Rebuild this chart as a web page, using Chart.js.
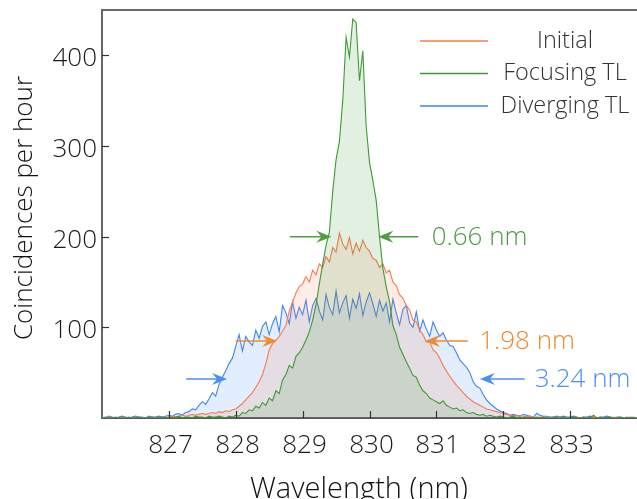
<!DOCTYPE html>
<html>
<head>
<meta charset="utf-8">
<script src="https://cdn.jsdelivr.net/npm/chart.js@4.4.1/dist/chart.umd.min.js"></script>
<style>
  html, body { margin: 0; padding: 0; background: #fff; }
  #wrap { width: 637px; height: 499px; }
</style>
</head>
<body>
<div id="wrap"><canvas id="spectrum" width="637" height="499"></canvas></div>
<script>
'use strict';

// Sampling grid (nm)
const lambdaStart = 826.0;
const lambdaStep = 0.05;

// Tick labels
const xTicks = [827, 828, 829, 830, 831, 832, 833];
const yTicks = [100, 200, 300, 400];

// Series (coincidences per hour), one value per 0.05 nm from 826.00 to 834.00
const initialCounts = [
  0, 0, 1, 0, 0, 0, 1, 0, 0, 0, 1, 0, 0, 0, 0, 1, 0, 0, 1, 0,
  1, 2, 1, 2, 3, 2, 3, 4, 3, 4, 5, 4, 5, 6, 5, 7, 6, 8, 7, 9,
  10, 13, 16, 20, 24, 28, 34, 40, 48, 60, 75, 82, 86, 90, 96, 102, 118, 128, 138, 145,
  148, 156, 150, 163, 158, 170, 166, 178, 172, 188, 183, 204, 192, 186, 199, 181, 193, 184, 196, 188,
  184, 176, 174, 166, 170, 160, 163, 150, 146, 136, 132, 124, 119, 108, 106, 97, 92, 84, 84, 75,
  72, 66, 58, 52, 46, 41, 36, 32, 28, 24, 21, 18, 16, 14, 12, 10, 9, 8, 7, 6,
  5, 4, 3, 3, 2, 3, 2, 1, 2, 1, 0, 1, 1, 0, 1, 0, 0, 1, 0, 0,
  0, 0, 1, 0, 0, 0, 0, 1, 0, 0, 0, 0, 0, 1, 0, 0, 0, 0, 0, 0, 0
];
const focusingCounts = [
  0, 1, 0, 0, 1, 0, 0, 0, 1, 0, 0, 1, 0, 0, 0, 1, 0, 0, 1, 0,
  1, 0, 1, 2, 0, 1, 1, 0, 2, 1, 1, 0, 2, 1, 1, 2, 1, 0, 2, 1,
  3, 2, 6, 5, 9, 8, 13, 11, 17, 14, 22, 19, 30, 27, 42, 48, 58, 55, 68, 72,
  78, 86, 95, 108, 125, 148, 170, 190, 205, 250, 285, 305, 350, 420, 398, 440, 436, 372, 405, 322,
  282, 262, 240, 200, 165, 145, 128, 102, 92, 78, 70, 62, 55, 47, 45, 36, 30, 27, 22, 20,
  18, 16, 19, 14, 12, 10, 11, 8, 9, 6, 5, 6, 4, 3, 4, 2, 3, 2, 1, 2,
  1, 0, 1, 2, 0, 1, 0, 1, 0, 0, 1, 0, 1, 0, 0, 1, 0, 0, 1, 0,
  0, 1, 0, 0, 1, 0, 0, 3, 0, 1, 0, 0, 1, 0, 0, 1, 0, 0, 1, 0, 0
];
const divergingCounts = [
  1, 0, 2, 1, 0, 1, 2, 1, 0, 1, 2, 1, 1, 0, 2, 1, 1, 2, 1, 2,
  3, 2, 4, 5, 3, 6, 7, 10, 9, 14, 18, 15, 21, 28, 24, 37, 45, 52, 60, 66,
  79, 92, 74, 90, 84, 80, 97, 88, 101, 106, 92, 104, 112, 95, 124, 116, 104, 128, 110, 122,
  114, 130, 106, 124, 132, 118, 108, 136, 122, 114, 140, 116, 127, 135, 110, 131, 121, 137, 113, 128,
  138, 126, 112, 130, 118, 127, 106, 131, 116, 103, 120, 124, 105, 100, 117, 96, 108, 98, 90, 106,
  97, 90, 94, 86, 80, 79, 72, 64, 60, 56, 50, 40, 35, 33, 26, 20, 16, 13, 10, 8,
  6, 5, 3, 4, 3, 2, 4, 3, 2, 1, 5, 3, 2, 2, 1, 1, 2, 1, 2, 1,
  1, 2, 1, 0, 1, 1, 2, 1, 0, 1, 1, 2, 1, 0, 1, 1, 0, 1, 0, 1, 0
];

// FWHM annotations: label, level, left arrow [tail, tip], right arrow [tail, tip], text start
const fwhmLabels = ['0.66 nm', '1.98 nm', '3.24 nm'];
const fwhmLevels = [200, 85, 43];
const fwhmLeft = [[828.81, 829.43], [828.0, 828.62], [827.26, 827.87]];
const fwhmRight = [[830.73, 830.13], [831.47, 830.83], [832.32, 831.65]];
const fwhmTextX = [830.93, 831.64, 832.47];
const fwhmColors = ['#4d9e3f', '#f28a2e', '#4a8ff2'];

const FONT = "'Open Sans', 'Noto Sans', sans-serif";

const toPoints = arr => arr.map((v, i) => ({ x: lambdaStart + i * lambdaStep, y: v }));

const seriesStyle = [
  { label: 'Initial', data: initialCounts, line: '#fb7a4b', fill: 'rgba(251, 122, 75, 0.14)' },
  { label: 'Focusing TL', data: focusingCounts, line: '#3f9a35', fill: 'rgba(63, 154, 53, 0.15)' },
  { label: 'Diverging TL', data: divergingCounts, line: '#3d86f2', fill: 'rgba(61, 134, 242, 0.15)' }
];

function drawArrow(ctx, x0, x1, yy, color) {
  const dir = Math.sign(x1 - x0);
  ctx.strokeStyle = color;
  ctx.fillStyle = color;
  ctx.lineWidth = 1.5;
  ctx.beginPath();
  ctx.moveTo(x0, yy);
  ctx.lineTo(x1 - dir * 8, yy);
  ctx.stroke();
  ctx.beginPath();
  ctx.moveTo(x1, yy);
  ctx.lineTo(x1 - dir * 15, yy - 6);
  ctx.lineTo(x1 - dir * 10, yy);
  ctx.lineTo(x1 - dir * 15, yy + 6);
  ctx.closePath();
  ctx.fill();
}

const extras = {
  id: 'extras',
  afterDraw(chart) {
    const { ctx, chartArea: a } = chart;
    const x = chart.scales.x, y = chart.scales.y;
    ctx.save();

    // top spine
    ctx.strokeStyle = '#6a6a6a';
    ctx.lineWidth = 2;
    ctx.beginPath();
    ctx.moveTo(a.left - 1, a.top);
    ctx.lineTo(a.right + 2, a.top);
    ctx.stroke();

    // inward tick marks + labels
    ctx.strokeStyle = '#333';
    ctx.lineWidth = 1.2;
    ctx.fillStyle = '#1a1a1a';
    ctx.font = '300 26px ' + FONT;
    xTicks.forEach(t => {
      const px = Math.round(x.getPixelForValue(t)) + 0.5;
      ctx.beginPath();
      ctx.moveTo(px, a.bottom);
      ctx.lineTo(px, a.bottom - 7);
      ctx.stroke();
      ctx.textAlign = 'center';
      ctx.textBaseline = 'alphabetic';
      ctx.fillText(String(t), px + 1, 453);
    });
    yTicks.forEach(t => {
      const py = Math.round(y.getPixelForValue(t)) + 0.5;
      ctx.beginPath();
      ctx.moveTo(a.left, py);
      ctx.lineTo(a.left + 7, py);
      ctx.stroke();
      ctx.textAlign = 'right';
      ctx.textBaseline = 'alphabetic';
      ctx.fillText(String(t), 97, py + 10);
    });

    // FWHM arrows and labels
    fwhmLabels.forEach((lab, i) => {
      const py = y.getPixelForValue(fwhmLevels[i]);
      drawArrow(ctx, x.getPixelForValue(fwhmLeft[i][0]), x.getPixelForValue(fwhmLeft[i][1]), py, fwhmColors[i]);
      drawArrow(ctx, x.getPixelForValue(fwhmRight[i][0]), x.getPixelForValue(fwhmRight[i][1]), py, fwhmColors[i]);
      ctx.fillStyle = fwhmColors[i];
      ctx.font = '300 26px ' + FONT;
      ctx.textAlign = 'left';
      ctx.textBaseline = 'middle';
      ctx.fillText(lab, x.getPixelForValue(fwhmTextX[i]), py + 1);
    });

    // legend
    seriesStyle.forEach((s, i) => {
      const ly = 41 + i * 32.5;
      ctx.strokeStyle = s.line;
      ctx.lineWidth = 1.6;
      ctx.beginPath();
      ctx.moveTo(420, ly);
      ctx.lineTo(488, ly);
      ctx.stroke();
      ctx.fillStyle = '#333';
      ctx.font = '300 23.5px ' + FONT;
      ctx.textAlign = 'center';
      ctx.textBaseline = 'middle';
      ctx.fillText(s.label, 565, ly);
    });

    // axis titles
    ctx.fillStyle = '#111';
    ctx.textAlign = 'center';
    ctx.font = '300 29px ' + FONT;
    ctx.textBaseline = 'alphabetic';
    ctx.fillText('Wavelength (nm)', 359, 498);
    ctx.save();
    ctx.translate(25, 208);
    ctx.rotate(-Math.PI / 2);
    ctx.font = '300 26px ' + FONT;
    ctx.textBaseline = 'middle';
    ctx.fillText('Coincidences per hour', 0, 0);
    ctx.restore();

    ctx.restore();
  }
};

const chart = new Chart(document.getElementById('spectrum').getContext('2d'), {
  type: 'line',
  data: {
    datasets: seriesStyle.map((s, i) => ({
      label: s.label,
      data: toPoints(s.data),
      borderColor: s.line,
      backgroundColor: s.fill,
      borderWidth: 1.1,
      fill: 'origin',
      pointRadius: 0,
      tension: 0,
      order: [2, 1, 3][i]
    }))
  },
  options: {
    responsive: false,
    animation: false,
    layout: { padding: { top: 10, right: 0, left: 0, bottom: 0 } },
    plugins: {
      legend: { display: false },
      tooltip: { enabled: false }
    },
    scales: {
      x: {
        type: 'linear',
        min: 826,
        max: 834,
        afterFit: scale => { scale.height = 81; },
        afterBuildTicks: scale => { scale.ticks = xTicks.map(v => ({ value: v })); },
        grid: { display: false, drawTicks: false },
        border: { display: true, color: '#555', width: 2 },
        ticks: { display: false }
      },
      y: {
        min: 0,
        max: 450,
        afterFit: scale => { scale.width = 102; },
        afterBuildTicks: scale => { scale.ticks = yTicks.map(v => ({ value: v })); },
        grid: { display: false, drawTicks: false },
        border: { display: true, color: '#666', width: 2 },
        ticks: { display: false }
      }
    }
  },
  plugins: [extras]
});
</script>
</body>
</html>
